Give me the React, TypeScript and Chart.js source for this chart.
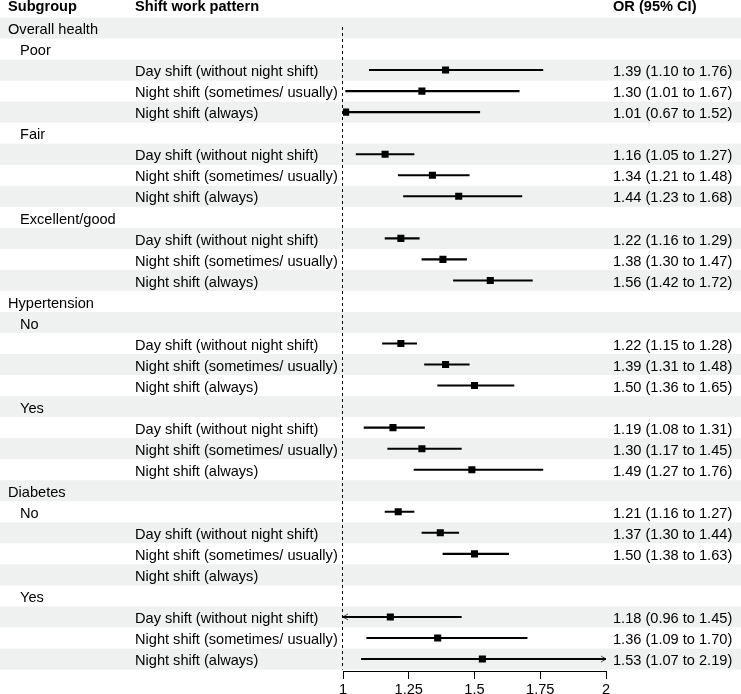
import { useEffect, useRef } from 'react';
import { Chart, registerables } from 'chart.js';

Chart.register(...registerables);

// Row labels, top to bottom
const subgroupLabels = [
  'Overall health', 'Poor', '', '', '',
  'Fair', '', '', '',
  'Excellent/good', '', '', '',
  'Hypertension', 'No', '', '', '',
  'Yes', '', '', '',
  'Diabetes', 'No', '', '', '',
  'Yes', '', '', '',
];
// rows holding a top-level heading (drawn without indent)
const headingRows = [0, 13, 22];

const patternLabels = [
  '', '', 'Day shift (without night shift)', 'Night shift (sometimes/ usually)', 'Night shift (always)',
  '', 'Day shift (without night shift)', 'Night shift (sometimes/ usually)', 'Night shift (always)',
  '', 'Day shift (without night shift)', 'Night shift (sometimes/ usually)', 'Night shift (always)',
  '', '', 'Day shift (without night shift)', 'Night shift (sometimes/ usually)', 'Night shift (always)',
  '', 'Day shift (without night shift)', 'Night shift (sometimes/ usually)', 'Night shift (always)',
  '', '', 'Day shift (without night shift)', 'Night shift (sometimes/ usually)', 'Night shift (always)',
  '', 'Day shift (without night shift)', 'Night shift (sometimes/ usually)', 'Night shift (always)',
];

// Odds ratios with 95% confidence limits (null = no estimate on that row)
const oddsRatio: (number | null)[] = [
  null, null, 1.39, 1.30, 1.01,
  null, 1.16, 1.34, 1.44,
  null, 1.22, 1.38, 1.56,
  null, null, 1.22, 1.39, 1.50,
  null, 1.19, 1.30, 1.49,
  null, 1.21, 1.37, 1.50, null,
  null, 1.18, 1.36, 1.53,
];
const ciLower: (number | null)[] = [
  null, null, 1.10, 1.01, 0.67,
  null, 1.05, 1.21, 1.23,
  null, 1.16, 1.30, 1.42,
  null, null, 1.15, 1.31, 1.36,
  null, 1.08, 1.17, 1.27,
  null, 1.16, 1.30, 1.38, null,
  null, 0.96, 1.09, 1.07,
];
const ciUpper: (number | null)[] = [
  null, null, 1.76, 1.67, 1.52,
  null, 1.27, 1.48, 1.68,
  null, 1.29, 1.47, 1.72,
  null, null, 1.28, 1.48, 1.65,
  null, 1.31, 1.45, 1.76,
  null, 1.27, 1.44, 1.63, null,
  null, 1.45, 1.70, 2.19,
];

const columnHeaders = ['Subgroup', 'Shift work pattern', 'OR (95% CI)'];
const xTickValues = [1, 1.25, 1.5, 1.75, 2];
const xTickLabels = ['1', '1.25', '1.5', '1.75', '2'];
const referenceValue = 1;

const FONT = '"Liberation Sans", Arial, Helvetica, sans-serif';
const FONT_SIZE = 14.6;
const STRIPE = 'rgb(238, 241, 240)';
const ROW_COUNT = subgroupLabels.length;

const fmt = (v: number) => v.toFixed(2);

const forestPlugin = {
  id: 'forestTable',
  beforeDraw(chart: any) {
    const { ctx, width, scales } = chart;
    const y = scales.y;
    ctx.save();
    ctx.fillStyle = '#ffffff';
    ctx.fillRect(0, 0, width, chart.height);
    ctx.fillStyle = STRIPE;
    for (let i = 0; i < ROW_COUNT; i += 2) {
      const top = y.getPixelForValue(i - 0.5);
      const bottom = y.getPixelForValue(i + 0.5);
      ctx.fillRect(0, top, width, bottom - top);
    }
    ctx.restore();
  },
  beforeDatasetsDraw(chart: any) {
    const { ctx, scales } = chart;
    const x = scales.x;
    const y = scales.y;
    ctx.save();
    // dashed line of no effect
    const xr = Math.round(x.getPixelForValue(referenceValue)) - 0.5;
    ctx.strokeStyle = '#000';
    ctx.lineWidth = 1;
    ctx.setLineDash([3, 3]);
    ctx.beginPath();
    ctx.moveTo(xr, y.getPixelForValue(-0.05));
    ctx.lineTo(xr, y.getPixelForValue(ROW_COUNT - 0.5));
    ctx.stroke();
    ctx.setLineDash([]);
    // arrowheads where an interval runs past the axis range
    ctx.strokeStyle = '#444';
    ctx.lineWidth = 1;
    oddsRatio.forEach((or, i) => {
      if (or === null) return;
      const lo = ciLower[i] as number;
      const hi = ciUpper[i] as number;
      const py = y.getPixelForValue(i);
      if (lo < x.min) {
        const px = x.getPixelForValue(x.min);
        ctx.beginPath();
        ctx.moveTo(px + 5, py - 3);
        ctx.lineTo(px, py);
        ctx.lineTo(px + 5, py + 3);
        ctx.stroke();
      }
      if (hi > x.max) {
        const px = x.getPixelForValue(x.max);
        ctx.beginPath();
        ctx.moveTo(px - 5, py - 3);
        ctx.lineTo(px, py);
        ctx.lineTo(px - 5, py + 3);
        ctx.stroke();
      }
    });
    ctx.restore();
  },
  afterDraw(chart: any) {
    const { ctx, scales } = chart;
    const y = scales.y;
    ctx.save();
    ctx.fillStyle = '#000';
    ctx.textBaseline = 'alphabetic';
    ctx.textAlign = 'left';
    const headBase = y.getPixelForValue(-1) + 4;
    ctx.font = `bold ${FONT_SIZE}px ${FONT}`;
    ctx.fillText(columnHeaders[0], 8, headBase);
    ctx.fillText(columnHeaders[1], 135, headBase);
    ctx.fillText(columnHeaders[2], 613, headBase);
    ctx.font = `${FONT_SIZE}px ${FONT}`;
    subgroupLabels.forEach((label, i) => {
      const base = y.getPixelForValue(i) + 6.2;
      if (label) ctx.fillText(label, headingRows.includes(i) ? 8 : 20, base);
      if (patternLabels[i]) ctx.fillText(patternLabels[i], 135, base);
      const or = oddsRatio[i];
      if (or !== null) {
        ctx.fillText(`${fmt(or)} (${fmt(ciLower[i] as number)} to ${fmt(ciUpper[i] as number)})`, 613, base);
      }
    });
    ctx.restore();
  },
};

export default function App() {
  const canvasRef = useRef<HTMLCanvasElement | null>(null);

  useEffect(() => {
    document.body.style.margin = '0';
    const canvas = canvasRef.current;
    if (!canvas) return;

    const ciData: any[] = [];
    const orData: any[] = [];
    oddsRatio.forEach((or, i) => {
      if (or === null) return;
      ciData.push({ x: [ciLower[i], ciUpper[i]], y: i });
      orData.push({ x: or, y: i });
    });

    const chart = new Chart(canvas, {
      type: 'scatter',
      data: {
        datasets: [
          {
            type: 'scatter',
            data: orData,
            pointStyle: 'rect',
            pointRadius: 5,
            pointHoverRadius: 5,
            backgroundColor: '#000',
            borderColor: '#000',
            borderWidth: 0,
            order: 0,
          } as any,
          {
            type: 'bar',
            indexAxis: 'y',
            data: ciData,
            barThickness: 1.4,
            backgroundColor: '#000',
            borderWidth: 0,
            borderSkipped: false,
            order: 1,
          } as any,
        ],
      },
      options: {
        animation: false,
        responsive: false,
        events: [],
        layout: { padding: { left: 343, right: 135, top: 17.5, bottom: 0 } },
        plugins: { legend: { display: false }, tooltip: { enabled: false } },
        scales: {
          x: {
            type: 'linear',
            min: 1,
            max: 2,
            offset: false,
            afterBuildTicks: (scale: any) => {
              scale.ticks = xTickValues.map((v) => ({ value: v }));
            },
            afterFit: (scale: any) => {
              scale.height = 23;
            },
            ticks: {
              color: '#000',
              padding: 2.5,
              maxRotation: 0,
              autoSkip: false,
              font: { family: FONT, size: FONT_SIZE },
              callback: (_v: any, idx: number) => xTickLabels[idx],
            },
            grid: { offset: false, drawOnChartArea: false, drawTicks: true, tickLength: 8, color: '#000', lineWidth: 1 },
            border: { display: true, color: '#000', width: 1 },
          },
          y: {
            type: 'linear',
            min: -0.5,
            // a little room between the last row and the axis line
            max: ROW_COUNT - 0.43,
            offset: false,
            reverse: true,
            display: false,
          },
        },
      } as any,
      plugins: [forestPlugin],
    });

    return () => chart.destroy();
  }, []);

  return (
    <div style={{ width: 741, height: 694 }}>
      <canvas ref={canvasRef} width={741} height={694} style={{ display: 'block' }} />
    </div>
  );
}
